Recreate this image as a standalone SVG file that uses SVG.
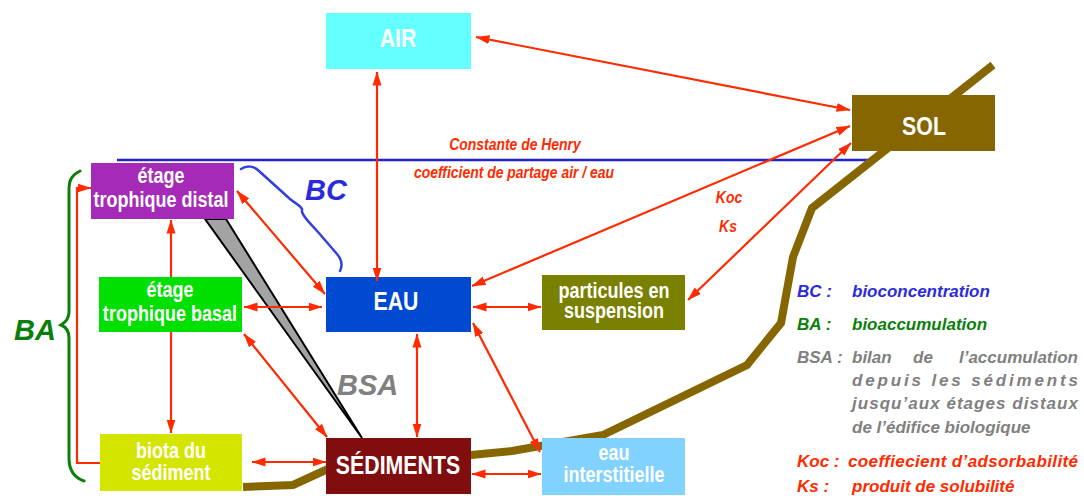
<svg xmlns="http://www.w3.org/2000/svg" width="1084" height="496" viewBox="0 0 1084 496">
<defs>
<style>
text{font-family:"Liberation Sans",Arial,sans-serif;font-weight:bold}
.nl{fill:#ffffff;text-anchor:middle}
.big{font-size:26px}
.med{font-size:22px}
.it{font-style:italic}
.red{fill:#ff2a00}
.conn{stroke:#ff2a00;stroke-width:2.2;fill:none}
.lg{font-size:17px;font-style:italic}
</style>
<marker id="ah" viewBox="0 0 14 10" refX="13.5" refY="5" markerWidth="14" markerHeight="10" markerUnits="userSpaceOnUse" orient="auto-start-reverse">
<path d="M0,0.5 L14,5 L0,9.5 z" fill="#ff2a00"/>
</marker>
</defs>
<rect width="1084" height="496" fill="#ffffff"/>

<!-- Henry line -->
<line x1="117" y1="160" x2="871" y2="160" stroke="#2222cc" stroke-width="2.5"/>
<!-- soil surface -->
<path d="M243,487 L293,485 L330,468 L471,455 L512,451 L603,435 L747,365 L781,323 L793,257 L812,208 L993,65" fill="none" stroke="#866600" stroke-width="8" stroke-linejoin="miter"/>

<!-- BSA wedge -->
<polygon points="205,219 226,219 362,438" fill="#a3a3a3" stroke="#000000" stroke-width="2" stroke-linejoin="miter"/>

<!-- braces -->
<path d="M241,169 C247,165 254,166 259,171 L290,199 C296,204 300,205 302,209 L302,212 C304,218 310,223 318,232 L337,254 C342,260 343,265 340,271" fill="none" stroke="#3340e0" stroke-width="2.5" stroke-linecap="round"/>
<path d="M80,171 C72,175 69,180 69,189 L69,312 C69,318 66,322 61,325 C66,327 69,331 69,338 L69,458 C69,472 75,478 84,481" fill="none" stroke="#0a800a" stroke-width="3" stroke-linecap="round"/>

<g id="air"><rect x="326" y="13" width="145" height="56" fill="#64ffff"/><text class="nl big" transform="matrix(0.82,0,0,1,398,47)">AIR</text></g>
<g id="sol"><rect x="852" y="95" width="143" height="56" fill="#866600"/><text class="nl big" transform="matrix(0.82,0,0,1,924,135)">SOL</text></g>
<g id="distal"><rect x="91" y="163" width="143" height="56" fill="#a62ab8"/><text class="nl med" transform="matrix(0.82,0,0,1,161,183)">étage</text><text class="nl med" transform="matrix(0.82,0,0,1,161,207)">trophique distal</text></g>
<g id="basal"><rect x="99" y="277" width="143" height="55" fill="#00e000"/><text class="nl med" transform="matrix(0.82,0,0,1,170,297)">étage</text><text class="nl med" transform="matrix(0.82,0,0,1,170,321)">trophique basal</text></g>
<g id="eau"><rect x="326" y="277" width="145" height="55" fill="#0049d1"/><text class="nl big" transform="matrix(0.82,0,0,1,396,310)">EAU</text></g>
<g id="particules"><rect x="542" y="275" width="143" height="55" fill="#7a8000"/><text class="nl med" transform="matrix(0.82,0,0,1,614,298)">particules en</text><text class="nl med" transform="matrix(0.82,0,0,1,614,318)">suspension</text></g>
<g id="biota"><rect x="100" y="434" width="142" height="57" fill="#d4e600"/><text class="nl med" transform="matrix(0.82,0,0,1,171,458)">biota du</text><text class="nl med" transform="matrix(0.82,0,0,1,171,480)">sédiment</text></g>
<g id="sediments"><rect x="326" y="438" width="145" height="56" fill="#800e0e"/><text class="nl big" transform="matrix(0.82,0,0,1,398,474)">SÉDIMENTS</text></g>
<g id="interstitielle"><rect x="542" y="438" width="143" height="57" fill="#82d2ff"/><text class="nl med" transform="matrix(0.82,0,0,1,614,460)">eau</text><text class="nl med" transform="matrix(0.82,0,0,1,614,482)">interstitielle</text></g>

<g id="connectors" class="conn">
<line x1="476" y1="37" x2="850" y2="110" marker-start="url(#ah)" marker-end="url(#ah)"/>
<line x1="377" y1="72" x2="377" y2="281" marker-start="url(#ah)" marker-end="url(#ah)"/>
<line x1="850" y1="126" x2="472" y2="286" marker-start="url(#ah)" marker-end="url(#ah)"/>
<line x1="851" y1="143" x2="688" y2="300" marker-start="url(#ah)" marker-end="url(#ah)"/>
<line x1="237" y1="191" x2="325" y2="294" marker-start="url(#ah)" marker-end="url(#ah)"/>
<line x1="244" y1="307" x2="322" y2="307" marker-start="url(#ah)" marker-end="url(#ah)"/>
<line x1="473" y1="307" x2="541" y2="307" marker-start="url(#ah)" marker-end="url(#ah)"/>
<line x1="244" y1="334" x2="327" y2="437" marker-start="url(#ah)" marker-end="url(#ah)"/>
<line x1="417" y1="334" x2="417" y2="437" marker-start="url(#ah)" marker-end="url(#ah)"/>
<line x1="473" y1="323" x2="540" y2="452" marker-start="url(#ah)" marker-end="url(#ah)"/>
<line x1="472" y1="474" x2="541" y2="474" marker-start="url(#ah)" marker-end="url(#ah)"/>
<line x1="252" y1="462" x2="326" y2="462" marker-start="url(#ah)" marker-end="url(#ah)"/>
<line x1="171" y1="277" x2="171" y2="220" marker-end="url(#ah)"/>
<line x1="171" y1="332" x2="171" y2="433" marker-end="url(#ah)"/>
<path d="M100,463 L77,463 L77,188 L91,188" marker-end="url(#ah)"/>
</g>

<!-- labels -->
<text class="it red" font-size="17" text-anchor="middle" transform="matrix(0.82,0,0,1,515,150)">Constante de Henry</text>
<text class="it red" font-size="17" text-anchor="middle" transform="matrix(0.82,0,0,1,514,178)">coefficient de partage air / eau</text>
<text class="it red" font-size="17" text-anchor="middle" transform="matrix(0.82,0,0,1,729,203)">Koc</text>
<text class="it red" font-size="17" text-anchor="middle" transform="matrix(0.82,0,0,1,728,232)">Ks</text>
<text class="it" x="305" y="200" font-size="29" fill="#2b2bdd">BC</text>
<text class="it" x="14" y="340" font-size="29" fill="#0a800a">BA</text>
<text class="it" x="337" y="395" font-size="29" fill="#808080">BSA</text>

<!-- legend -->
<g id="legend" class="lg">
<text x="797" y="297" fill="#2b2bdd">BC :</text><text x="852" y="297" fill="#2b2bdd">bioconcentration</text>
<text x="797" y="330" fill="#0a800a">BA :</text><text x="852" y="330" fill="#0a800a">bioaccumulation</text>
<text x="797" y="363" fill="#808080">BSA :</text>
<text x="852" y="363" fill="#808080">bilan</text><text x="913" y="363" fill="#808080">de</text><text x="1078" y="363" fill="#808080" text-anchor="end">l’accumulation</text>
<text x="852" y="386" fill="#808080" textLength="226" lengthAdjust="spacing">depuis les sédiments</text>
<text x="852" y="409" fill="#808080" textLength="226" lengthAdjust="spacing">jusqu’aux étages distaux</text>
<text x="852" y="433" fill="#808080">de l’édifice biologique</text>
<text x="797" y="467" fill="#ff2a00">Koc :</text><text x="848" y="467" fill="#ff2a00" textLength="230" lengthAdjust="spacing">coeffiecient d’adsorbabilité</text>
<text x="797" y="492" fill="#ff2a00">Ks :</text><text x="852" y="492" fill="#ff2a00">produit de solubilité</text>
</g>
</svg>
